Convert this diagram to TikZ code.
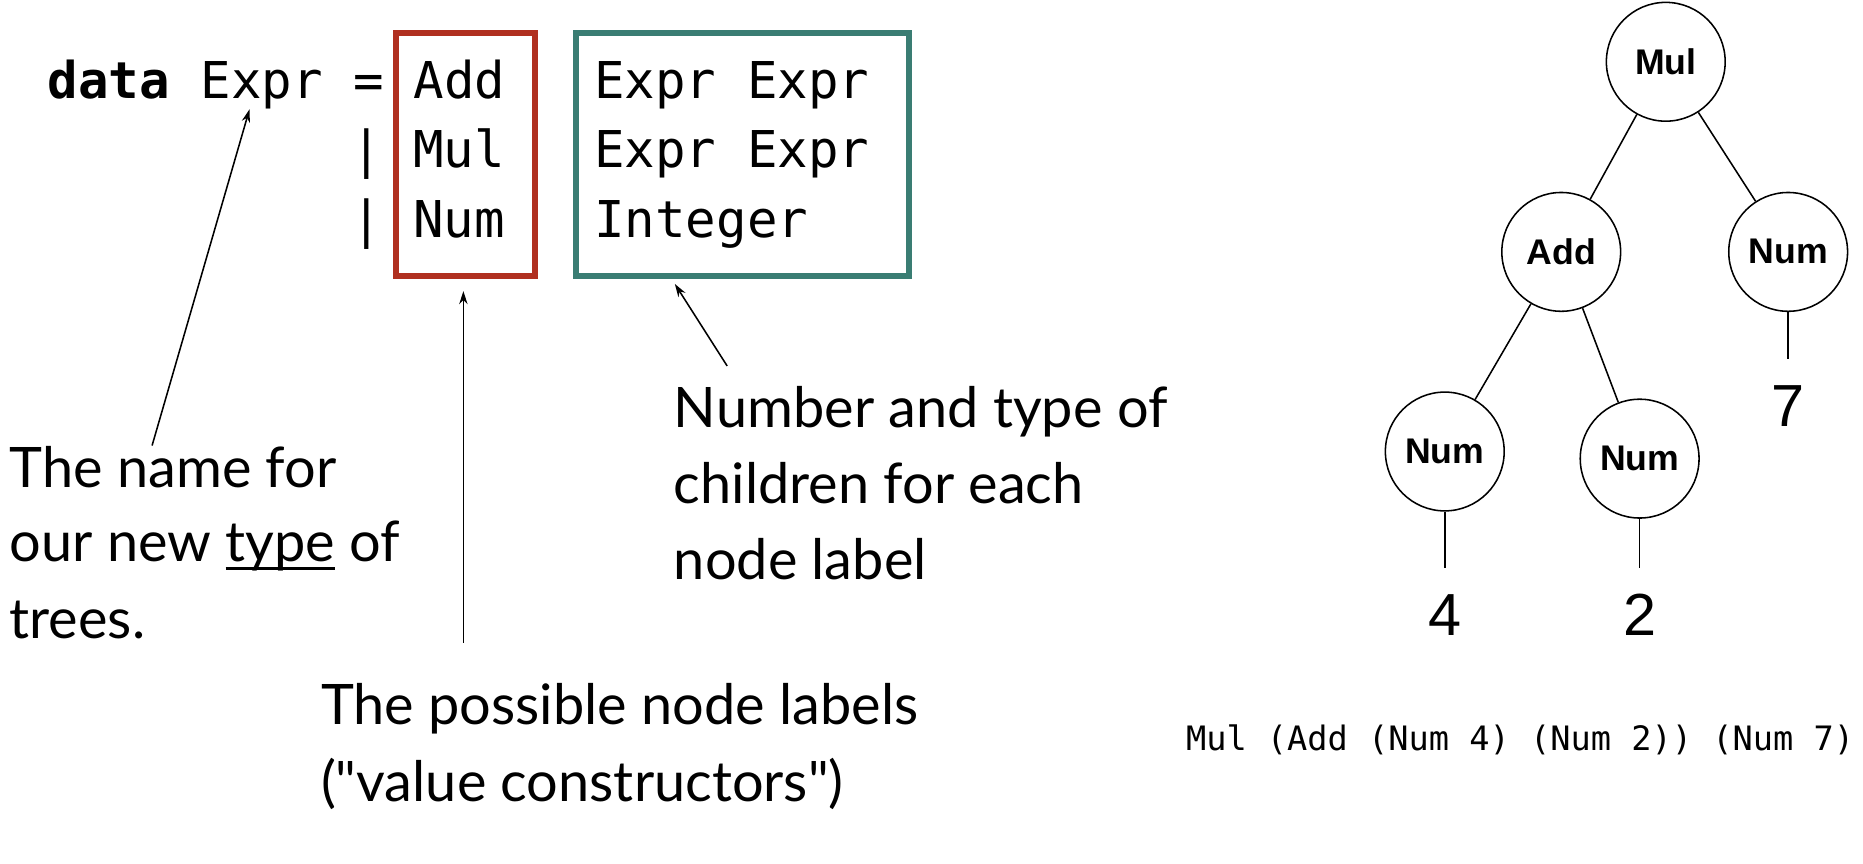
\documentclass[tikz,border=0pt]{standalone}
\usepackage{fontspec}
\usetikzlibrary{arrows.meta}
\newfontfamily\codefont{DejaVu Sans Mono}
\newfontfamily\handfont{Lato}
\newfontfamily\treefont{Liberation Sans}
\definecolor{boxred}{HTML}{B03020}
\definecolor{boxteal}{HTML}{3A7D73}
\newcommand{\thickul}[1]{\setbox0\hbox{#1}\rlap{\rule[-7pt]{\wd0}{2.6pt}}\box0\relax}
\tikzset{
  code/.style={anchor=base west, inner sep=0pt, font=\codefont\fontsize{42.7}{50}\selectfont},
  hand/.style={anchor=base west, inner sep=0pt, font=\handfont\fontsize{47}{60}\selectfont},
  frame/.style={draw, line width=5pt, inner sep=0pt},
  pointer/.style={line width=1.3pt, -{Stealth[length=11pt,width=7pt]}},
  tnode/.style={circle, draw, line width=1.3pt, minimum size=100pt, inner sep=0pt, font=\treefont\bfseries\fontsize{30}{32}\selectfont},
  leaf/.style={anchor=base, inner sep=0pt, font=\treefont\fontsize{50}{55}\selectfont},
  edge/.style={line width=1.3pt}
}
\begin{document}
\begin{tikzpicture}[x=1pt,y=-1pt]
\useasboundingbox (0,0) rectangle (1568,727);
% code
\node[code] (c1) at (40,83) {\textbf{data} Expr =};
\node[code] (add) at (348,83) {Add};
\node[code] (mul) at (296,141) {| Mul};
\node[code] (num) at (296,200) {| Num};
\node[code] (t1) at (500,83) {Expr Expr};
\node[code] (t2) at (500,141) {Expr Expr};
\node[code] (t3) at (500,200) {Integer};
% boxes
\node[frame, draw=boxred, minimum width=117pt, minimum height=204pt] (redbox) at (391.5,130) {};
\node[frame, draw=boxteal, minimum width=280pt, minimum height=204pt] (tealbox) at (625,130) {};
% annotations
\node[hand] (n1) at (8,410) {The name for};
\node[hand] (n2) at (8,473) {our new \thickul{type} of};
\node[hand] (n3) at (8,537) {trees.};
\node[hand] (k1) at (567,360) {Number and type of};
\node[hand] (k2) at (567,424) {children for each};
\node[hand] (k3) at (567,488) {node label};
\node[hand] (p1) at (270,610) {The possible node labels};
\node[hand] (p2) at (270,675) {("value constructors")};
\coordinate (a1s) at (128,375);
\coordinate (a1e) at (210,92);
\coordinate (a2s) at (390,541);
\coordinate (a2e) at (390,245);
\coordinate (a3s) at (612,308);
\coordinate (a3e) at (568,239);
\draw[pointer] (a1s) -- (a1e);
\draw[pointer] (a2s) -- (a2e);
\draw[pointer] (a3s) -- (a3e);
% tree
\node[tnode] (tmul) at (1402,52) {Mul};
\node[tnode] (tadd) at (1314,212) {Add};
\node[tnode] (tn7) at (1505,212) {Num};
\node[tnode] (tn4) at (1216,380) {Num};
\node[tnode] (tn2) at (1380,386) {Num};
\draw[edge] (tmul) -- (tadd);
\draw[edge] (tmul) -- (tn7);
\draw[edge] (tadd) -- (tn4);
\draw[edge] (tadd) -- (tn2);
\coordinate (l4) at (1216,478);
\coordinate (l2) at (1380,478);
\coordinate (l7) at (1505,302);
\draw[edge] (tn4.south) -- (l4);
\draw[edge] (tn2.south) -- (l2);
\draw[edge] (tn7.south) -- (l7);
\node[leaf] (v4) at (1216,535) {4};
\node[leaf] (v2) at (1380,535) {2};
\node[leaf] (v7) at (1505,359) {7};
\node[anchor=base west, inner sep=0pt, font=\codefont\fontsize{28.3}{30}\selectfont] (expr) at (998,632) {Mul (Add (Num 4) (Num 2)) (Num 7)};
\end{tikzpicture}
\end{document}
